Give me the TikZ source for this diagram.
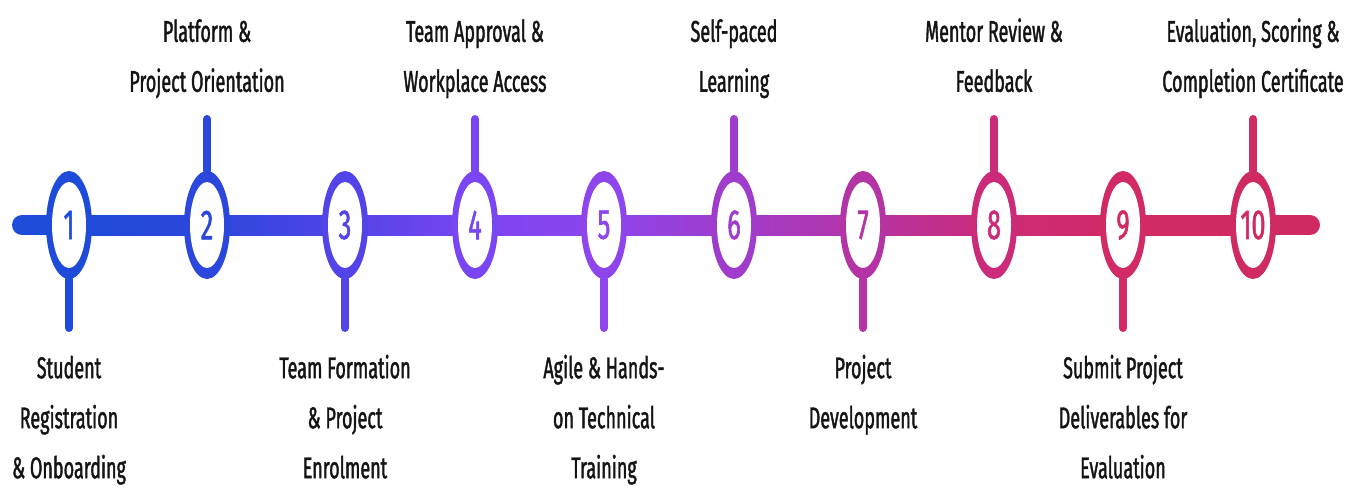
\documentclass[tikz,border=0pt]{standalone}
\usepackage{fontspec}
\setmainfont{Fira Sans}[FakeStretch=0.6, FakeBold=1.3]
\usepackage{tikz}
\usetikzlibrary{positioning}
\usetikzlibrary{shapes.geometric,backgrounds}
\definecolor{col1}{HTML}{1E4BD9}
\definecolor{col2}{HTML}{2C47DC}
\definecolor{col3}{HTML}{5244E8}
\definecolor{col4}{HTML}{7A45F2}
\definecolor{col5}{HTML}{8E45EC}
\definecolor{col6}{HTML}{A03CCB}
\definecolor{col7}{HTML}{B434A6}
\definecolor{col8}{HTML}{CB2B78}
\definecolor{col9}{HTML}{D22A66}
\definecolor{col10}{HTML}{D02A62}
\tikzstyle{stage} = [ellipse, minimum width=46pt, minimum height=108pt, inner sep=0pt, font=\fontsize{42}{42}\selectfont, path picture={\fill[white] (path picture bounding box.center) ellipse [x radius=17pt, y radius=43pt];}]
\tikzstyle{stagetext} = [align=center, inner sep=0pt, text=black!92, font=\fontsize{30}{50}\selectfont]
\tikzstyle{stem} = [line width=8pt, line cap=round]
\tikzstyle{track} = [line width=20pt, line cap=round]

\begin{document}
\begin{tikzpicture}[x=1pt, y=1pt, node distance=15pt]
	\useasboundingbox (0,0) rectangle (1364,-490);
	\node (n1) [stage, fill=col1, text=col1] at (69,-225) {1};
	\node (n2) [stage, fill=col2, text=col2] at (207,-225) {2};
	\node (n3) [stage, fill=col3, text=col3] at (345,-225) {3};
	\node (n4) [stage, fill=col4, text=col4] at (475,-225) {4};
	\node (n5) [stage, fill=col5, text=col5] at (604,-225) {5};
	\node (n6) [stage, fill=col6, text=col6] at (734,-225) {6};
	\node (n7) [stage, fill=col7, text=col7] at (863,-225) {7};
	\node (n8) [stage, fill=col8, text=col8] at (994,-225) {8};
	\node (n9) [stage, fill=col9, text=col9] at (1123,-225) {9};
	\node (n10) [stage, fill=col10, text=col10] at (1253,-225) {10};
	\coordinate (lend) at (22,-225);
	\coordinate (rend) at (1310,-225);
	\begin{scope}[on background layer]
		\draw [track, col1] (lend)--(n1.center);
		\shade [left color=col1, right color=col2] ([yshift=10pt]n1.center) rectangle ([yshift=-10pt]n2.center);
		\shade [left color=col2, right color=col3] ([yshift=10pt]n2.center) rectangle ([yshift=-10pt]n3.center);
		\shade [left color=col3, right color=col4] ([yshift=10pt]n3.center) rectangle ([yshift=-10pt]n4.center);
		\shade [left color=col4, right color=col5] ([yshift=10pt]n4.center) rectangle ([yshift=-10pt]n5.center);
		\shade [left color=col5, right color=col6] ([yshift=10pt]n5.center) rectangle ([yshift=-10pt]n6.center);
		\shade [left color=col6, right color=col7] ([yshift=10pt]n6.center) rectangle ([yshift=-10pt]n7.center);
		\shade [left color=col7, right color=col8] ([yshift=10pt]n7.center) rectangle ([yshift=-10pt]n8.center);
		\shade [left color=col8, right color=col9] ([yshift=10pt]n8.center) rectangle ([yshift=-10pt]n9.center);
		\shade [left color=col9, right color=col10] ([yshift=10pt]n9.center) rectangle ([yshift=-10pt]n10.center);
		\draw [track, col10] (n10.center)--(rend);
	\end{scope}
	% stems
	\coordinate (s1) at (69,-328);
	\coordinate (s2) at (207,-119);
	\coordinate (s3) at (345,-328);
	\coordinate (s4) at (475,-119);
	\coordinate (s5) at (604,-328);
	\coordinate (s6) at (734,-119);
	\coordinate (s7) at (863,-328);
	\coordinate (s8) at (994,-119);
	\coordinate (s9) at (1123,-328);
	\coordinate (s10) at (1253,-119);
	\draw [stem, col1] (n1.south)--(s1);
	\draw [stem, col2] (n2.north)--(s2);
	\draw [stem, col3] (n3.south)--(s3);
	\draw [stem, col4] (n4.north)--(s4);
	\draw [stem, col5] (n5.south)--(s5);
	\draw [stem, col6] (n6.north)--(s6);
	\draw [stem, col7] (n7.south)--(s7);
	\draw [stem, col8] (n8.north)--(s8);
	\draw [stem, col9] (n9.south)--(s9);
	\draw [stem, col10] (n10.north)--(s10);
	% labels
	\node (t1) [stagetext, below=of s1] {\strut Student\\Registration\\\& Onboarding};
	\node (t2) [stagetext, above=12pt of s2] {Platform \&\\Project Orientation\strut};
	\node (t3) [stagetext, below=of s3] {\strut Team Formation\\\& Project\\Enrolment};
	\node (t4) [stagetext, above=12pt of s4] {Team Approval \&\\Workplace Access\strut};
	\node (t5) [stagetext, below=of s5] {\strut Agile \& Hands-\\on Technical\\Training};
	\node (t6) [stagetext, above=12pt of s6] {Self-paced\\Learning\strut};
	\node (t7) [stagetext, below=of s7] {\strut Project\\Development};
	\node (t8) [stagetext, above=12pt of s8] {Mentor Review \&\\Feedback\strut};
	\node (t9) [stagetext, below=of s9] {\strut Submit Project\\Deliverables for\\Evaluation};
	\node (t10) [stagetext, above=12pt of s10] {Evaluation, Scoring \&\\Completion Certificate\strut};
\end{tikzpicture}
\end{document}
